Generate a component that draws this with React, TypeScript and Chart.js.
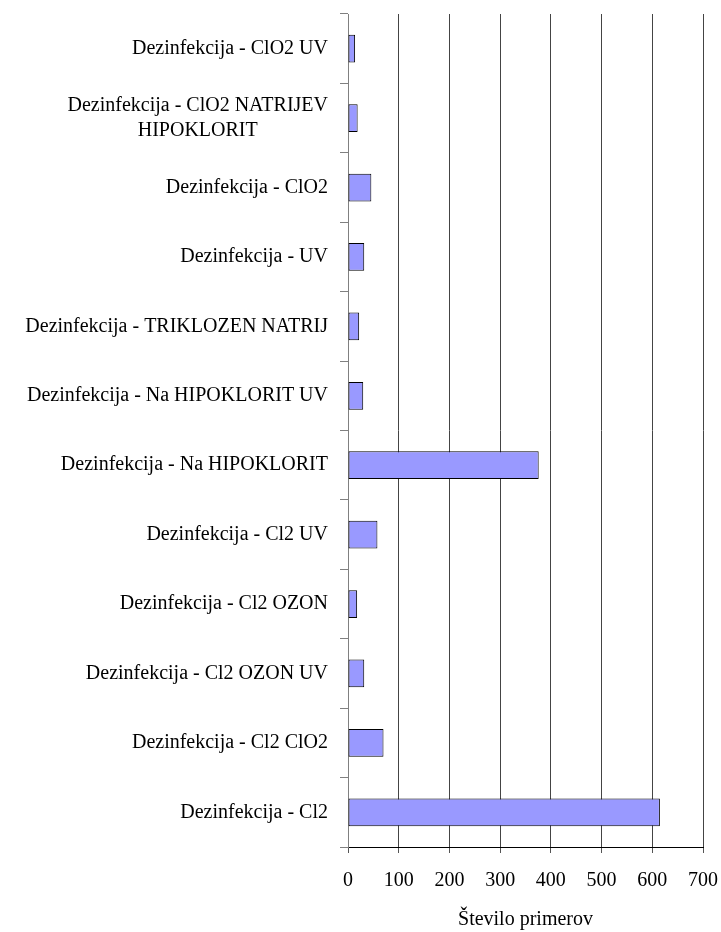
import React, { useEffect, useRef } from "react";
import { Chart, registerables } from "chart.js";

Chart.register(...registerables);

const categories: (string | string[])[] = [
  "Dezinfekcija - ClO2 UV",
  ["Dezinfekcija - ClO2 NATRIJEV", "HIPOKLORIT"],
  "Dezinfekcija - ClO2",
  "Dezinfekcija - UV",
  "Dezinfekcija - TRIKLOZEN NATRIJ",
  "Dezinfekcija - Na HIPOKLORIT UV",
  "Dezinfekcija - Na HIPOKLORIT",
  "Dezinfekcija - Cl2 UV",
  "Dezinfekcija - Cl2 OZON",
  "Dezinfekcija - Cl2 OZON UV",
  "Dezinfekcija - Cl2 ClO2",
  "Dezinfekcija - Cl2",
];

const counts: number[] = [14, 19, 46, 32, 22, 30, 376, 58, 18, 32, 70, 615];

const xAxisTitle = "Število primerov";
const xMin = 0;
const xMax = 700;
const xStep = 100;

const FONT = '"Liberation Serif", "Times New Roman", serif';

const yLabelPlugin = {
  id: "yLabels",
  afterDraw(chart: any) {
    const ctx = chart.ctx;
    const y = chart.scales.y;
    ctx.save();
    ctx.font = `20px ${FONT}`;
    ctx.fillStyle = "#000";
    ctx.textBaseline = "middle";
    ctx.textAlign = "center";
    const right = y.right - 20;
    const lh = 25.7;
    categories.forEach((lab, i) => {
      const lines = Array.isArray(lab) ? lab : [lab];
      const w = Math.max(...lines.map((l) => ctx.measureText(l).width));
      const cx = right - w / 2;
      const cy = y.getPixelForTick(i);
      lines.forEach((l, j) => {
        ctx.fillText(l, cx, cy + (j - (lines.length - 1) / 2) * lh);
      });
    });
    ctx.restore();
  },
};

export default function App() {
  const ref = useRef<HTMLCanvasElement | null>(null);

  useEffect(() => {
    document.body.style.margin = "0";
    if (!ref.current) return;
    const chart = new Chart(ref.current, {
      type: "bar",
      data: {
        labels: categories as any,
        datasets: [
          {
            data: counts,
            backgroundColor: "#9999FF",
            borderColor: "#000000",
            borderWidth: 1,
            borderSkipped: false,
            barPercentage: 0.4,
            categoryPercentage: 1,
          },
        ],
      },
      options: {
        indexAxis: "y",
        animation: false,
        responsive: false,
        maintainAspectRatio: false,
        layout: { padding: { top: 14, right: 18, bottom: 0, left: 0 } },
        plugins: {
          legend: { display: false },
          tooltip: { enabled: false },
        },
        scales: {
          x: {
            type: "linear",
            min: xMin,
            max: xMax,
            ticks: {
              stepSize: xStep,
              padding: 16,
              color: "#000",
              font: { family: FONT, size: 20 },
              maxRotation: 0,
            },
            grid: {
              color: "#444",
              tickColor: "#555",
              tickLength: 6,
              lineWidth: 1,
            },
            border: { color: "#000", width: 1 },
            title: {
              display: true,
              text: xAxisTitle,
              color: "#000",
              font: { family: FONT, size: 20 },
              padding: { top: 0, bottom: 0 },
            },
            afterFit: (scale: any) => {
              scale.paddingLeft = 0;
              scale.paddingRight = 0;
              scale.height = 85;
            },
          },
          y: {
            type: "category",
            ticks: { display: false },
            grid: {
              offset: true,
              drawOnChartArea: false,
              color: "#808080",
              tickLength: 8,
            },
            border: { color: "#808080", width: 1 },
            afterFit: (scale: any) => {
              scale.width = 348;
            },
          },
        },
      },
      plugins: [yLabelPlugin],
    });
    return () => chart.destroy();
  }, []);

  return <canvas ref={ref} width={721} height={932} style={{ display: "block" }} />;
}
